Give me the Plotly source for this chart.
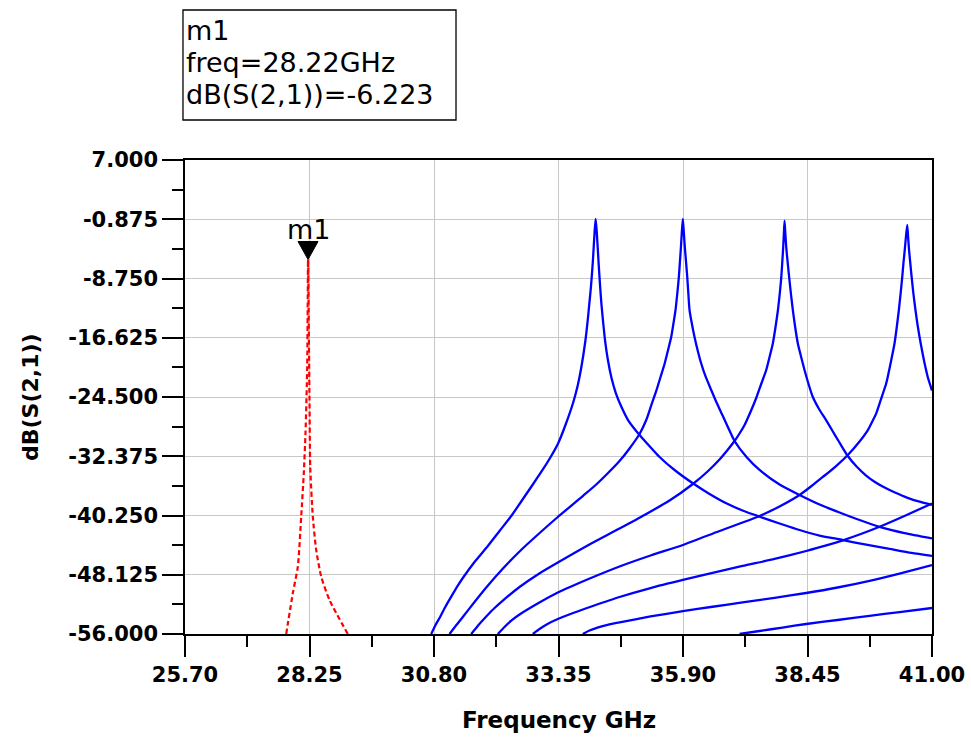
import plotly.graph_objects as go

# ---- Swept S21 responses (frequency in GHz, magnitude in dB) ----
# Reference resonance (dashed red) with marker m1
red_freq = [27.773, 27.908, 28.011, 28.080, 28.133, 28.168, 28.203, 28.212, 28.220,
            28.232, 28.250, 28.265, 28.318, 28.387, 28.490, 28.660, 29.035]
red_db = [-56.00, -50.59, -47.05, -40.41, -34.64, -29.32, -20.47, -13.00, -6.223,
          -13.00, -24.90, -33.76, -40.41, -44.83, -48.38, -51.48, -56.00]

# Tuned resonances (solid blue)
a_freq = [30.743, 30.831, 30.928, 31.036, 31.153, 31.271, 31.390, 31.630, 31.903, 32.142,
          32.382, 32.593, 32.824, 33.023, 33.201, 33.346, 33.500, 33.654, 33.746, 33.822,
          33.900, 33.945, 33.979, 34.014, 34.053, 34.088, 34.111,
          34.135, 34.170, 34.203, 34.231, 34.264, 34.305, 34.362, 34.436, 34.524, 34.631,
          34.774, 35.010, 35.286, 35.420, 35.727, 36.102, 36.444, 36.786, 37.120, 37.468,
          37.877, 38.287, 38.697, 39.174, 39.680, 40.131, 40.581, 41.000]
a_db = [-56.00, -54.80, -53.70, -52.34, -51.04, -49.75, -48.56, -46.43, -44.30, -42.31,
        -40.32, -38.32, -36.13, -34.20, -32.34, -30.61, -28.09, -25.16, -22.90, -20.38,
        -17.06, -14.53, -12.27, -9.88, -6.56, -2.70, -0.84,
        -2.70, -6.56, -9.88, -12.27, -14.53, -17.06, -19.58, -21.97, -23.97, -25.70,
        -27.56, -29.55, -31.54, -32.47, -34.20, -35.97, -37.39, -38.63, -39.59, -40.41,
        -41.31, -42.18, -42.91, -43.51, -44.17, -44.70, -45.23, -45.63]

b_freq = [31.118, 31.251, 31.390, 31.630, 31.870, 32.203, 32.552, 32.941, 33.336, 33.596,
          33.848, 34.123, 34.354, 34.600, 34.805, 35.010, 35.147, 35.245, 35.352, 35.440,
          35.522, 35.594, 35.659, 35.706, 35.747, 35.784, 35.815, 35.835, 35.854, 35.874,
          35.897,
          35.919, 35.942, 35.964, 35.987, 36.009, 36.034, 36.081, 36.136, 36.198, 36.273,
          36.362, 36.478, 36.587, 36.716, 36.833, 36.956, 37.201, 37.468, 37.877, 38.287,
          38.697, 39.106, 39.516, 39.926, 40.438, 41.000]
b_db = [-56.00, -54.87, -53.74, -51.75, -49.82, -47.36, -45.03, -42.71, -40.45, -39.05,
        -37.66, -36.13, -34.67, -33.01, -31.34, -29.42, -27.56, -25.70, -23.70, -21.84,
        -20.11, -18.25, -16.53, -14.66, -12.94, -10.68, -8.55, -6.69, -4.96, -2.84,
        -0.84,
        -2.84, -4.96, -6.69, -8.55, -10.68, -12.94, -14.73, -16.53, -18.25, -20.05,
        -21.77, -23.57, -25.23, -27.02, -28.69, -30.35, -32.47, -34.20, -36.13, -37.52,
        -38.79, -39.85, -40.85, -41.75, -42.58, -43.28]

c_freq = [31.562, 31.712, 31.870, 32.040, 32.210, 32.552, 32.941, 33.336, 33.965, 34.600,
          35.112, 35.624, 36.102, 36.403, 36.648, 36.812, 36.956, 37.058, 37.161, 37.273,
          37.400, 37.498, 37.605, 37.673, 37.740, 37.795, 37.842, 37.881, 37.912, 37.931,
          37.949, 37.965, 37.980,
          37.998, 38.019, 38.047, 38.076, 38.111, 38.150, 38.197, 38.252, 38.320, 38.389,
          38.471, 38.559, 38.686, 38.834, 38.963, 39.086, 39.260, 39.455, 39.639, 39.823,
          40.028, 40.253, 40.499, 40.745, 41.000]
c_db = [-56.00, -54.80, -53.67, -52.54, -51.55, -49.75, -48.02, -46.50, -44.17, -41.98,
        -40.18, -38.26, -36.06, -34.40, -32.81, -31.54, -30.35, -29.35, -28.22, -26.63,
        -24.63, -22.84, -20.91, -19.18, -17.39, -15.20, -13.07, -10.81, -8.68, -6.82,
        -4.96, -2.97, -1.07,
        -2.97, -4.96, -6.82, -8.68, -10.81, -12.94, -15.20, -17.39, -19.18, -20.91,
        -22.77, -24.50, -26.09, -27.62, -29.02, -30.35, -32.21, -33.74, -34.87, -35.76,
        -36.53, -37.23, -37.90, -38.40, -38.83]

d_freq = [32.107, 32.244, 32.388, 32.552, 32.941, 33.336, 33.965, 34.600, 35.235, 35.897,
          36.648, 37.433, 37.877, 38.287, 38.533, 38.764, 39.025, 39.276, 39.516, 39.686,
          39.772, 39.858, 39.956, 40.063, 40.151, 40.233, 40.280, 40.321, 40.358, 40.391,
          40.417, 40.442, 40.464, 40.493,
          40.512, 40.530, 40.557, 40.585, 40.620, 40.661, 40.700, 40.745, 40.794, 40.848,
          40.913, 41.000]
d_db = [-56.00, -55.07, -54.20, -53.41, -51.88, -50.48, -48.69, -47.03, -45.57, -44.17,
        -42.31, -40.41, -39.05, -37.52, -36.33, -35.13, -33.74, -32.21, -30.41, -28.89,
        -27.82, -26.67, -24.77, -22.68, -20.05, -17.36, -15.13, -12.94, -10.68, -8.51,
        -6.56, -4.96, -3.37, -1.64,
        -3.37, -4.96, -6.82, -8.68, -10.81, -12.94, -14.73, -16.53, -18.25, -20.02,
        -21.84, -23.64]

e_freq = [32.824, 32.961, 33.125, 33.336, 33.678, 34.053, 34.600, 35.235, 35.897, 36.505,
          37.120, 37.775, 38.424, 38.799, 39.174, 39.557, 39.926, 40.458, 41.000]
e_db = [-56.00, -55.33, -54.67, -54.01, -53.14, -52.28, -51.08, -49.89, -48.82, -47.89,
        -46.96, -46.03, -44.97, -44.30, -43.55, -42.68, -41.75, -40.25, -38.65]

f_freq = [33.848, 33.986, 34.149, 34.354, 34.600, 35.235, 35.897, 36.505, 37.120, 37.775,
          38.424, 39.065, 39.721, 40.335, 41.000]
f_db = [-56.00, -55.53, -55.14, -54.80, -54.47, -53.67, -52.97, -52.38, -51.80, -51.19,
        -50.55, -49.82, -48.93, -47.96, -46.83]

g_freq = [37.058, 37.468, 37.939, 38.424, 39.065, 39.721, 40.335, 41.000]
g_db = [-56.00, -55.60, -55.14, -54.67, -54.14, -53.58, -53.08, -52.54]

# ---- Axes ----
x_ticks = [25.70, 28.25, 30.80, 33.35, 35.90, 38.45, 41.00]
x_tick_labels = ["25.70", "28.25", "30.80", "33.35", "35.90", "38.45", "41.00"]
y_ticks = [7.0, -0.875, -8.75, -16.625, -24.5, -32.375, -40.25, -48.125, -56.0]
y_tick_labels = ["7.000", "-0.875", "-8.750", "-16.625", "-24.500",
                 "-32.375", "-40.250", "-48.125", "-56.000"]

# Marker readout
marker_name = "m1"
marker_freq = 28.22
marker_db = -6.223
readout_lines = [marker_name, "freq=28.22GHz", "dB(S(2,1))=-6.223"]

BLUE = "#0000FF"
RED = "#FF0000"

fig = go.Figure()

for fx, fy in [(a_freq, a_db), (b_freq, b_db), (c_freq, c_db), (d_freq, d_db),
               (e_freq, e_db), (f_freq, f_db), (g_freq, g_db)]:
    fig.add_trace(go.Scatter(
        x=fx, y=fy, mode="lines",
        line=dict(color=BLUE, width=2.3, shape="spline", smoothing=0.6),
        hoverinfo="skip", showlegend=False))

fig.add_trace(go.Scatter(
    x=red_freq, y=red_db, mode="lines",
    line=dict(color=RED, width=2.2, dash="5px,3px", shape="spline", smoothing=0.6),
    hoverinfo="skip", showlegend=False))

tick_font = dict(family="DejaVu Sans", size=21, color="black", weight="bold")
x_minor_step = (x_ticks[1] - x_ticks[0]) / 2
y_minor_step = abs(y_ticks[0] - y_ticks[1]) / 2

fig.update_xaxes(
    range=[x_ticks[0], x_ticks[-1]], automargin=False,
    tickmode="array", tickvals=x_ticks, ticktext=x_tick_labels,
    ticks="outside", ticklen=21, tickwidth=1.5, tickcolor="black",
    showline=True, linecolor="black", linewidth=1.5, mirror=True,
    showgrid=True, gridcolor="#c8c8c8", gridwidth=1.3, zeroline=False,
    tickfont=tick_font,
    minor=dict(ticks="outside", ticklen=11, tickwidth=1.5, tickcolor="black",
               tick0=x_ticks[0], dtick=x_minor_step, showgrid=False),
)
fig.update_yaxes(
    range=[y_ticks[-1], y_ticks[0]], automargin=False,
    tickmode="array", tickvals=y_ticks, ticktext=y_tick_labels,
    ticks="outside", ticklen=21, tickwidth=1.5, tickcolor="black",
    showline=True, linecolor="black", linewidth=1.5, mirror=True,
    showgrid=True, gridcolor="#c8c8c8", gridwidth=1.3, zeroline=False,
    tickfont=tick_font,
    minor=dict(ticks="outside", ticklen=11, tickwidth=1.5, tickcolor="black",
               tick0=y_ticks[-1], dtick=y_minor_step, showgrid=False),
)

annotations = [
    dict(text="Frequency GHz", xref="paper", yref="paper", x=0.5, y=-0.181,
         xanchor="center", yanchor="middle", showarrow=False,
         font=dict(family="DejaVu Sans", size=23, color="black", weight="bold")),
    dict(text="dB(S(2,1))", xref="paper", yref="paper", x=-0.2075, y=0.5,
         xanchor="center", yanchor="middle", textangle=-90, showarrow=False,
         font=dict(family="DejaVu Sans", size=22, color="black", weight="bold")),
    # marker name above the triangle
    dict(text=marker_name, x=marker_freq, y=marker_db, xref="x", yref="y",
         xanchor="center", yanchor="middle", yshift=30, showarrow=False,
         font=dict(family="DejaVu Sans", size=27, color="black")),
]
# marker readout box lines
for line_text, ypos in zip(readout_lines, [1.2722, 1.2057, 1.1392]):
    annotations.append(dict(text=line_text, xref="paper", yref="paper", x=-0.0013, y=ypos,
                            xanchor="left", yanchor="middle", showarrow=False,
                            font=dict(family="DejaVu Sans", size=27, color="black")))

shapes = [
    # readout frame
    dict(type="rect", xref="paper", yref="paper", x0=-0.0027, x1=0.3628, y0=1.0844, y1=1.3165,
         line=dict(color="black", width=1.3), fillcolor="rgba(0,0,0,0)"),
    # marker triangle, tip on the trace
    dict(type="path", xref="x", yref="y", xsizemode="pixel", ysizemode="pixel",
         xanchor=marker_freq, yanchor=marker_db,
         path="M -10 18 L 10 18 L 0 0 Z", fillcolor="black", line=dict(color="black", width=1)),
]

fig.update_layout(
    width=971, height=742,
    margin=dict(l=185, r=39, t=160, b=108),
    paper_bgcolor="white", plot_bgcolor="white",
    showlegend=False,
    annotations=annotations, shapes=shapes,
    font=dict(family="DejaVu Sans", color="black"),
)

fig.write_html("out.html")
